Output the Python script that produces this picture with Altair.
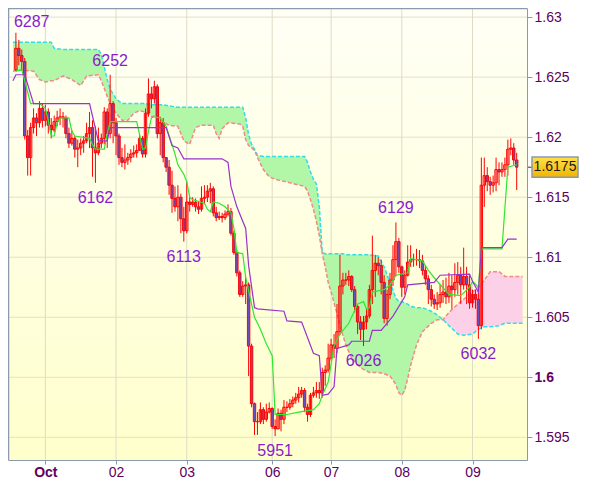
import altair as alt
import pandas as pd

# ---------------- data (prices in pips: 6274 -> 1.6274) ----------------
first_open = 6256
close = [6274, 6268, 6263, 6201, 6183, 6208, 6216, 6212, 6224, 6214,
         6221, 6210, 6206, 6213, 6216, 6217, 6216, 6203, 6195, 6199,
         6190, 6191, 6195, 6197, 6203, 6208, 6191, 6187, 6195, 6199,
         6221, 6203, 6228, 6212, 6201, 6183, 6179, 6181, 6183, 6186,
         6187, 6189, 6199, 6186, 6220, 6236, 6232, 6242, 6203, 6212,
         6183, 6175, 6160, 6149, 6142, 6150, 6132, 6122, 6146, 6144,
         6146, 6142, 6140, 6149, 6150, 6155, 6157, 6137, 6133, 6134,
         6133, 6136, 6138, 6120, 6104, 6087, 6069, 6076, 6077, 6026,
         5978, 5963, 5963, 5973, 5965, 5971, 5974, 5959, 5957, 5970,
         5965, 5975, 5975, 5978, 5981, 5983, 5986, 5989, 5975, 5969,
         5985, 5987, 5989, 5987, 6004, 6006, 6016, 6027, 6024, 6038,
         6076, 6081, 6081, 6084, 6073, 6059, 6046, 6040, 6046, 6051,
         6073, 6089, 6095, 6093, 6079, 6049, 6069, 6081, 6098, 6113,
         6092, 6075, 6085, 6096, 6098, 6098, 6098, 6097, 6089, 6082,
         6073, 6065, 6061, 6062, 6069, 6071, 6067, 6076, 6073, 6079,
         6085, 6077, 6084, 6077, 6062, 6069, 6065, 6043, 6160, 6168,
         6163, 6160, 6162, 6173, 6171, 6173, 6177, 6190, 6191, 6181,
         6175]
high = [6287, 6281, 6273, 6266, 6206, 6212, 6224, 6220, 6230, 6228,
        6227, 6224, 6216, 6218, 6222, 6224, 6221, 6218, 6208, 6206,
        6201, 6198, 6199, 6201, 6212, 6221, 6214, 6209, 6208, 6203,
        6225, 6224, 6252, 6230, 6216, 6203, 6191, 6194, 6187, 6190,
        6193, 6194, 6202, 6201, 6224, 6249, 6242, 6247, 6244, 6217,
        6216, 6183, 6181, 6172, 6159, 6160, 6153, 6142, 6163, 6150,
        6150, 6149, 6146, 6159, 6160, 6160, 6162, 6159, 6142, 6138,
        6137, 6139, 6144, 6141, 6122, 6106, 6089, 6080, 6084, 6079,
        6028, 5979, 5971, 5979, 5975, 5978, 5979, 5975, 5965, 5974,
        5973, 5981, 5980, 5982, 5984, 5987, 5992, 5992, 5991, 5978,
        5987, 5992, 5996, 5996, 6008, 6010, 6028, 6032, 6036, 6061,
        6102, 6087, 6087, 6089, 6085, 6076, 6061, 6051, 6051, 6057,
        6077, 6118, 6102, 6100, 6098, 6085, 6073, 6087, 6110, 6129,
        6116, 6093, 6089, 6110, 6110, 6103, 6107, 6106, 6102, 6093,
        6085, 6077, 6069, 6071, 6077, 6081, 6083, 6087, 6085, 6095,
        6096, 6092, 6108, 6092, 6085, 6073, 6073, 6071, 6183, 6183,
        6175, 6167, 6168, 6183, 6179, 6179, 6183, 6198, 6199, 6195,
        6187]
low = [6255, 6260, 6256, 6198, 6168, 6168, 6203, 6201, 6208, 6208,
       6209, 6203, 6199, 6204, 6209, 6210, 6208, 6199, 6191, 6193,
       6183, 6175, 6185, 6187, 6195, 6191, 6167, 6162, 6185, 6191,
       6194, 6191, 6199, 6195, 6185, 6177, 6175, 6173, 6177, 6179,
       6183, 6183, 6190, 6183, 6183, 6217, 6224, 6228, 6199, 6185,
       6179, 6171, 6152, 6137, 6138, 6130, 6120, 6113, 6120, 6138,
       6142, 6138, 6136, 6138, 6144, 6146, 6145, 6134, 6130, 6131,
       6129, 6131, 6134, 6118, 6102, 6084, 6067, 6067, 6061, 6001,
       5975, 5952, 5952, 5961, 5961, 5963, 5970, 5957, 5951, 5959,
       5955, 5961, 5971, 5973, 5975, 5978, 5979, 5983, 5971, 5963,
       5967, 5983, 5983, 5982, 5983, 5993, 6004, 6014, 6016, 6020,
       6035, 6069, 6077, 6076, 6071, 6054, 6036, 6031, 6026, 6040,
       6049, 6061, 6067, 6085, 6069, 6045, 6043, 6065, 6076, 6084,
       6087, 6067, 6069, 6084, 6092, 6092, 6093, 6091, 6085, 6077,
       6061, 6059, 6057, 6056, 6058, 6062, 6061, 6062, 6057, 6067,
       6069, 6061, 6073, 6061, 6057, 6058, 6057, 6032, 6040, 6142,
       6155, 6152, 6154, 6155, 6160, 6167, 6167, 6168, 6185, 6177,
       6156]

cloud_k = [-1, 2, 6, 8, 10, 12, 13, 16, 19, 22,
           24, 28, 29, 31, 32, 34, 36, 38, 40, 42,
           44, 46, 48, 50, 52, 55, 57, 59, 61, 63,
           67, 68, 69, 70, 72, 76, 77, 78, 79, 80,
           81, 82, 84, 86, 88, 93, 98, 99, 100, 101,
           102, 103, 104, 105, 106, 107, 108, 109, 110, 111,
           112, 114, 117, 120, 123, 125, 127, 129, 130, 131,
           132, 133, 134, 136, 138, 141, 143, 145, 147, 150,
           152, 155, 157, 159, 161, 164, 166, 172]
span_a = [6279, 6279, 6279, 6279, 6279, 6279, 6274, 6273, 6273, 6273,
          6273, 6273, 6269, 6248, 6240, 6232, 6228, 6228, 6228, 6228,
          6228, 6227, 6227, 6227, 6226, 6225, 6225, 6225, 6225, 6225,
          6225, 6225, 6225, 6225, 6225, 6225, 6225, 6216, 6202, 6194,
          6190, 6185, 6184, 6184, 6184, 6184, 6184, 6179, 6171, 6165,
          6161, 6142, 6104, 6103, 6103, 6103, 6103, 6103, 6103, 6103,
          6102, 6102, 6102, 6102, 6101, 6092, 6079, 6066, 6063, 6063,
          6062, 6061, 6059, 6058, 6058, 6055, 6052, 6048, 6043, 6036,
          6035, 6036, 6040, 6042, 6042, 6043, 6045, 6045]
span_b = [6255, 6256, 6255, 6248, 6246, 6247, 6247, 6251, 6248, 6243,
          6251, 6252, 6247, 6234, 6228, 6220, 6214, 6214, 6220, 6222,
          6221, 6217, 6218, 6212, 6210, 6209, 6197, 6194, 6208, 6210,
          6210, 6203, 6199, 6207, 6212, 6211, 6209, 6198, 6193, 6191,
          6189, 6183, 6173, 6167, 6165, 6162, 6159, 6155, 6148, 6140,
          6130, 6118, 6103, 6092, 6079, 6071, 6062, 6053, 6043, 6035,
          6027, 6016, 6008, 6004, 6004, 6003, 6001, 5994, 5987, 5985,
          5989, 5999, 6010, 6027, 6038, 6045, 6048, 6048, 6054, 6061,
          6065, 6071, 6075, 6081, 6088, 6088, 6084, 6084]
cloud_turn = 145  # bar where span A and span B cross

tenkan_k = [0, 2, 3, 5, 8, 10, 11, 12, 13, 14,
            15, 18, 19, 20, 25, 26, 27, 30, 31, 32,
            41, 42, 43, 44, 45, 46, 47, 49, 51, 53,
            54, 55, 57, 58, 59, 60, 64, 65, 66, 67,
            69, 71, 73, 74, 75, 77, 78, 80, 81, 83,
            85, 87, 88, 92, 96, 101, 103, 104, 106, 108,
            110, 113, 116, 118, 119, 120, 121, 125, 127, 129,
            133, 134, 138, 140, 143, 147, 151, 154, 155, 157,
            158, 165, 167, 170]
tenkan_v = [6255, 6256, 6247, 6228, 6228, 6224, 6214, 6201, 6201, 6212,
            6216, 6216, 6205, 6201, 6199, 6194, 6190, 6190, 6203, 6213,
            6213, 6202, 6190, 6191, 6205, 6216, 6217, 6216, 6209, 6194,
            6186, 6177, 6169, 6163, 6150, 6148, 6145, 6140, 6138, 6146,
            6145, 6142, 6137, 6124, 6104, 6103, 6083, 6061, 6050, 6040,
            6028, 6018, 5969, 5969, 5971, 5973, 5978, 5985, 5996, 6026,
            6036, 6045, 6061, 6063, 6057, 6058, 6071, 6073, 6077, 6085,
            6087, 6099, 6097, 6089, 6080, 6069, 6068, 6075, 6080, 6075,
            6107, 6107, 6175, 6177]

kijun_k = [-1, 0, 3, 6, 25, 28, 31, 32, 51, 53,
           55, 57, 70, 72, 73, 75, 78, 79, 81, 82,
           91, 92, 97, 101, 103, 104, 106, 108, 109, 113,
           114, 120, 121, 124, 128, 132, 133, 142, 144, 154,
           155, 157, 158, 165, 167, 170]
kijun_v = [6247, 6252, 6252, 6228, 6228, 6197, 6197, 6208, 6208, 6193,
           6191, 6182, 6182, 6179, 6159, 6142, 6124, 6093, 6058, 6057,
           6055, 6047, 6046, 6020, 6018, 5985, 5986, 5992, 6024, 6027,
           6030, 6030, 6039, 6039, 6051, 6067, 6077, 6079, 6085, 6086,
           6080, 6071, 6108, 6108, 6115, 6115]

swing_text = ["6287", "6252", "6162", "6113", "5951", "6129", "6026", "6032"]
swing_bar = [0, 32, 27, 57, 88, 129, 118, 157]
swing_side = ["hi", "hi", "lo", "lo", "lo", "hi", "lo", "lo"]

tick_bars = [10, 34, 58, 87, 107, 131, 155]
tick_labels = ["Oct", "02", "03", "06", "07", "08", "09"]
price_ticks = [1.595, 1.6, 1.605, 1.61, 1.615, 1.62, 1.625, 1.63]


def px(v):
    return 1 + v / 10000.0


# ---------------- tables ----------------
opens = [first_open] + close[:-1]
rows = []
for k in range(len(close)):
    o, c = opens[k], close[k]
    rows.append(dict(k=k, o=px(o), c=px(c),
                     h=px(max(high[k], o, c)), l=px(min(low[k], o, c)),
                     bull=bool(c >= o)))
candles = pd.DataFrame(rows)
cloud = pd.DataFrame(dict(k=cloud_k, a=[px(v) for v in span_a], b=[px(v) for v in span_b]))
tenkan = pd.DataFrame(dict(k=tenkan_k, v=[px(v) for v in tenkan_v]))
kijun = pd.DataFrame(dict(k=kijun_k, v=[px(v) for v in kijun_v]))
labels = pd.DataFrame(dict(k=swing_bar, v=[px(int(t)) for t in swing_text],
                           t=swing_text, side=swing_side))
ygrid = pd.DataFrame(dict(p=price_ticks))
xgrid = pd.DataFrame(dict(k=tick_bars))
last = px(close[-1])
box = pd.DataFrame(dict(c=[last], top=[last + 0.00084], bot=[last - 0.00084],
                        t=[f"{last:.4f}"]))
one = pd.DataFrame(dict(z=[0]))

W, H = 519, 452
AXC = "#8a9aae"
LAB = "#600060"
FONT = "Liberation Sans"

xs = alt.Scale(domain=[-0.984, 171.8], nice=False, zero=False)
ys = alt.Scale(domain=[1.59311, 1.63076], nice=False, zero=False)

lab_arr = "[" + ",".join(f"'{t}'" for t in tick_labels) + "]"
bar_arr = "[" + ",".join(str(b) for b in tick_bars) + "]"
x_axis = alt.Axis(values=tick_bars, orient="bottom", grid=False, tickSize=4,
                  tickColor=AXC, domainColor=AXC, labelColor=LAB, labelFont=FONT,
                  labelFontSize=14, labelPadding=1, zindex=1,
                  labelExpr=f"{lab_arr}[indexof({bar_arr}, datum.value)]",
                  labelFontWeight={"condition": {"test": f"datum.value == {tick_bars[0]}",
                                                 "value": "bold"}, "value": "normal"})
y_axis = alt.Axis(values=price_ticks, orient="right", grid=False, tickSize=5,
                  tickColor=AXC, domainColor=AXC, labelColor=LAB, labelFont=FONT,
                  labelFontSize=14, labelPadding=2, format=".3~f", zindex=1,
                  labelFontWeight={"condition": {"test": "abs(datum.value - 1.6) < 0.00001",
                                                 "value": "bold"}, "value": "normal"})


def X(f="k"):
    return alt.X(f"{f}:Q", scale=xs, axis=x_axis, title=None)


def Y(f):
    return alt.Y(f"{f}:Q", scale=ys, axis=y_axis, title=None)


bg = alt.Chart(one).mark_rect(fill={
    "gradient": "linear", "x1": 0, "x2": 0, "y1": 0, "y2": 1,
    "stops": [{"offset": 0, "color": "#fffff6"}, {"offset": 1, "color": "#ffffcc"}]
}).encode(x=alt.value(0), x2=alt.value(W), y=alt.value(0), y2=alt.value(H))

grid_y = alt.Chart(ygrid).mark_rule(color="#e1e1cb", strokeWidth=1).encode(y=Y("p"))
grid_x = alt.Chart(xgrid).mark_rule(color="#dcdcc4", strokeWidth=1).encode(x=X())

cloud_up = alt.Chart(cloud).transform_filter(f"datum.k <= {cloud_turn}").mark_area(
    color="#b2f7a8", clip=True).encode(x=X(), y=Y("a"), y2="b:Q")
cloud_dn = alt.Chart(cloud).transform_filter(f"datum.k >= {cloud_turn}").mark_area(
    color="#fcd0e6", clip=True).encode(x=X(), y=Y("a"), y2="b:Q")
line_a = alt.Chart(cloud).mark_line(color="#33dde8", strokeWidth=1.5, strokeDash=[4, 2],
                                    clip=True).encode(x=X(), y=Y("a"))
line_b = alt.Chart(cloud).mark_line(color="#f08a8a", strokeWidth=1.5, strokeDash=[4, 2],
                                    clip=True).encode(x=X(), y=Y("b"))

wicks = alt.Chart(candles).mark_rule(color="#ff0000", strokeWidth=1, clip=True).encode(
    x=X(), y=Y("l"), y2="h:Q")
bodies = alt.Chart(candles).mark_bar(size=2.4, stroke="#ff0000", strokeWidth=1,
                                     clip=True).encode(
    x=X(), y=Y("o"), y2="c:Q",
    fill=alt.condition("datum.bull", alt.value("transparent"), alt.value("#6650bb")))

tenkan_line = alt.Chart(tenkan).mark_line(color="#2ee82e", strokeWidth=1.2, clip=True).encode(
    x=X(), y=Y("v"))
kijun_line = alt.Chart(kijun).mark_line(color="#9933cc", strokeWidth=1.2, clip=True).encode(
    x=X(), y=Y("v"))

txt = dict(font=FONT, fontSize=16, color="#8a1ccf", baseline="middle")
lab_hi_edge = alt.Chart(labels).transform_filter("datum.side == 'hi' && datum.k == 0").mark_text(
    align="left", dx=-2, dy=-11, **txt).encode(x=X(), y=Y("v"), text="t:N")
lab_hi = alt.Chart(labels).transform_filter("datum.side == 'hi' && datum.k > 0").mark_text(
    align="center", dy=-14, **txt).encode(x=X(), y=Y("v"), text="t:N")
lab_lo = alt.Chart(labels).transform_filter("datum.side == 'lo'").mark_text(
    align="center", dy=15, **txt).encode(x=X(), y=Y("v"), text="t:N")

box_tick = alt.Chart(box).mark_rule(color="#333333", strokeWidth=1).encode(
    x=alt.value(W), x2=alt.value(W + 5), y=Y("c"))
box_rect = alt.Chart(box).mark_rect(fill={
    "gradient": "linear", "x1": 0, "x2": 0, "y1": 0, "y2": 1,
    "stops": [{"offset": 0, "color": "#ffe04a"}, {"offset": 1, "color": "#f2b400"}]
}, stroke=AXC, strokeWidth=1.5).encode(
    x=alt.value(W + 5), x2=alt.value(W + 51), y=Y("top"), y2="bot:Q")
box_text = alt.Chart(box).mark_text(font=FONT, fontSize=14, color="#1a1a1a",
                                    baseline="middle", align="center").encode(
    x=alt.value(W + 28), y=Y("c"), text="t:N")

border_top = alt.Chart(one).mark_rule(color=AXC, strokeWidth=1.5).encode(
    x=alt.value(0), x2=alt.value(W), y=alt.value(0.5))
border_left = alt.Chart(one).mark_rule(color=AXC, strokeWidth=1.5).encode(
    x=alt.value(0.5), y=alt.value(0), y2=alt.value(H))

chart = alt.layer(
    bg, grid_y, grid_x, cloud_up, cloud_dn, line_a, line_b,
    wicks, bodies, tenkan_line, kijun_line,
    lab_hi_edge, lab_hi, lab_lo,
    box_tick, box_rect, box_text,
    border_top, border_left,
).properties(
    width=W, height=H,
    padding={"left": 0, "top": 0, "right": 65, "bottom": 18},
    autosize=alt.AutoSizeParams(type="none"),
).configure_view(stroke=None).configure(background="#ffffff")

chart.save("out.html", embed_options={"renderer": "svg", "actions": False})
